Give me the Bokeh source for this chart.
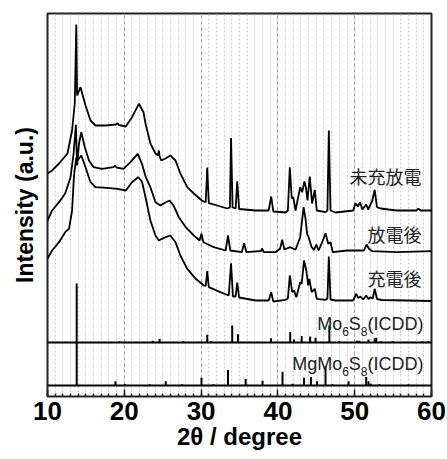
from bokeh.plotting import figure
from bokeh.models import Range1d, SingleIntervalTicker, FixedTicker, Span
from bokeh.embed import file_html
from bokeh.resources import INLINE
from bokeh.core.properties import value

# ---------------- data ----------------
# measured XRD patterns: 2theta and intensity (a.u., above each trace's flat end)
tt_pristine = [10.0, 10.6, 11.5, 12.6, 13.2, 13.55, 13.75, 13.85, 14.3, 14.95, 15.6, 16.25, 17.55, 18.9, 19.1, 19.3,
               20.2, 21.0, 21.9, 22.5, 22.76, 23.4, 24.06, 24.4, 24.5, 24.6, 24.8, 25.36, 26.0, 26.67, 27.3, 28.2,
               29.05, 30.1, 30.6, 30.8, 31.0, 32.1, 33.4, 33.75, 33.9, 34.1, 34.5, 34.7, 34.95, 37.1, 38.8, 39.13,
               39.4, 41.0, 41.3, 41.55, 41.8, 42.0, 42.3, 42.9, 43.16, 43.45, 43.65, 43.85, 44.15, 44.45, 44.8,
               45.06, 46.2, 46.45, 46.63, 46.85, 47.5, 49.8, 50.1, 50.4, 50.7, 51.0, 51.5, 51.75, 52.3, 52.6, 52.9,
               53.4, 54.4, 55.5, 58.0, 58.3, 58.6, 60.0]
int_pristine = [37, 40, 47, 57, 80, 107, 186, 115, 123.3, 105, 90, 85, 85, 86, 87.3, 85.5,
                84, 93.3, 106.7, 98.3, 87, 67, 57, 55, 60, 54, 50, 52, 55, 50, 37, 23.3,
                17, 10, 8.3, 43, 7.3, 5, 2, 3, 72.5, 3, 2, 29.3, 1.5, 0, 0, 14,
                -1, -2, 0, 43.3, 12, 13.3, 0, 23.3, 18.3, 29, 23, 10, 34, 7, 20.7,
                0, -1.7, 0, 80, 0, -2, 0, 7.3, 4, 8.3, 1, 6, 1, 10, 20.7, 3.3,
                2, 1, 0, 0, 1.7, 0, 0]

tt_discharged = [10.0, 10.6, 11.5, 12.3, 13.0, 13.4, 13.7, 13.85, 14.1, 14.4, 14.86, 15.4, 16.0, 17.1, 18.6, 18.8,
                 19.0, 19.9, 20.8, 21.75, 22.3, 22.8, 23.4, 24.06, 24.7, 25.4, 25.9, 26.4, 27.1, 28.0, 29.05,
                 29.8, 30.05, 30.3, 31.65, 33.2, 33.5, 33.8, 35.3, 35.6, 35.9, 37.8, 37.95, 38.15, 39.7, 40.3,
                 40.56, 40.85, 41.6, 42.3, 42.9, 43.1, 43.35, 43.6, 43.8, 44.0, 44.4, 44.7, 45.0, 45.3, 45.85,
                 46.2, 46.55, 46.85, 47.15, 49.0, 51.2, 51.55, 51.85, 52.3, 55.5, 60.0]
int_discharged = [30, 40, 48.3, 57, 73.3, 97, 125.7, 85, 106.7, 118.3, 103.3, 90, 83.3, 81.7, 83.3, 85,
                  83, 81.7, 88.3, 96.7, 86.7, 73.3, 63.3, 48.3, 45, 48.3, 50, 45, 33.3, 23.3, 15,
                  10, 16.7, 8.3, 3.3, 0, 15, 0, -1.7, 7.3, -1.7, -0.5, 2, -1.5, -1.7, 2,
                  10.7, 1, 3.3, 0.7, 13.3, 26.7, 43.3, 31.7, 16.7, 13.3, 3.3, 0.7, 6, 0, 10,
                  17.3, 6.7, 8.3, -1.7, 0, 0, 6, 1.7, -0.7, -1.7, -0.7]

tt_charged = [10.0, 10.6, 11.5, 12.3, 12.8, 13.2, 13.45, 13.75, 13.9, 14.4, 14.95, 15.6, 16.25, 17.8, 19.1, 20.2,
              21.0, 21.8, 22.3, 22.76, 23.4, 24.06, 24.5, 24.9, 25.4, 26.0, 26.67, 27.3, 28.2, 29.3, 30.35,
              30.6, 30.8, 31.0, 32.5, 33.6, 33.9, 34.15, 34.5, 34.7, 34.95, 37.1, 38.8, 39.13, 39.4, 41.0,
              41.3, 41.55, 41.86, 42.1, 42.4, 42.9, 43.1, 43.4, 43.7, 43.95, 44.1, 44.4, 44.8, 45.06, 46.2,
              46.45, 46.63, 46.85, 47.5, 49.8, 50.2, 50.45, 50.75, 51.1, 51.5, 51.8, 52.05, 52.35, 52.6, 52.9,
              53.5, 60.0]
int_charged = [42, 50, 58.3, 68.3, 71.7, 90, 125, 143, 140, 145, 133.3, 118.3, 113.3, 112.7, 111.7, 110,
               118.3, 123.3, 119, 103.3, 80, 65, 60, 61.7, 63.3, 65, 58.3, 45, 31.7, 21.7, 15,
               14.5, 29.3, 13.3, 8.3, 5, 37.3, 4, 4, 18, 3, 0, 0, 8.3, -1, 0.7,
               2, 25, 8.3, 10, 3.3, 18.3, 16.7, 40, 30, 15, 21.7, 8.3, 11.7, 1.7, 0.7,
               2, 44, 1, 0, 0, 6.7, 2.5, 4, 1, 5, 1.5, 3.3, 2, 11.7, 1.5,
               0.5, -0.5]

# reference stick patterns (relative intensity, %)
mo6s8_tt = [13.8, 19.4, 23.7, 24.6, 27.7, 30.8, 31.3, 34.05, 34.8, 39.1, 41.6, 42.1, 43.1, 44.2, 44.9, 46.7,
            48.0, 50.3, 50.6, 51.8, 52.6, 52.8, 53.4, 54.9, 58.8, 59.6]
mo6s8_int = [100, 2, 3, 6, 2, 13, 2, 29, 14, 7, 18, 5, 11, 10, 8, 29,
             2, 3, 3, 5, 7, 8, 2, 2, 2, 2]
mgmo6s8_tt = [13.8, 18.85, 20.1, 23.3, 25.4, 27.5, 30.05, 31.6, 33.5, 35.8, 38.0, 40.6, 41.9, 43.4, 44.3, 45.1,
              46.2, 47.1, 49.2, 51.5, 51.8, 52.1, 53.2, 57.0]
mgmo6s8_int = [100, 7, 2, 2, 7, 2, 13, 2, 26, 11, 8, 23, 3, 13, 14, 7,
               32, 2, 7, 14, 7, 3, 2, 2]

trace_labels = ["未充放電", "放電後", "充電後"]
x_ticks_interval = 10

# ---------------- layout constants ----------------
offsets = [186, 146, 96]          # vertical stacking of the three traces
label_y = [221, 163, 119]
mo_base, mg_base = 54, 11          # baselines of the stick panels
mo_scale, mg_scale = 0.59, 0.60
mg_cap = 43

p = figure(width=447, height=459, output_backend="svg", toolbar_location=None,
           x_range=Range1d(10, 60), y_range=Range1d(0, 383),
           min_border_left=47, min_border_right=16, min_border_top=13, min_border_bottom=63,
           background_fill_color="white", border_fill_color="white")

p.outline_line_color = "#222222"
p.outline_line_width = 2

# grid
p.xgrid.ticker = SingleIntervalTicker(interval=x_ticks_interval, num_minor_ticks=10)
p.xgrid.grid_line_color = "#9a9a9a"
p.xgrid.grid_line_dash = "3 3"
p.xgrid.grid_line_width = 1
p.xgrid.minor_grid_line_color = "#cccccc"
p.xgrid.minor_grid_line_dash = "2 2"
p.xgrid.minor_grid_line_width = 1
p.ygrid.visible = False

# x axis
xa = p.xaxis[0]
xa.ticker = SingleIntervalTicker(interval=x_ticks_interval, num_minor_ticks=10)
xa.axis_line_color = None
xa.major_tick_in = 7
xa.major_tick_out = 0
xa.minor_tick_in = 3
xa.minor_tick_out = 0
xa.major_tick_line_width = 1.5
xa.minor_tick_line_width = 1.5
xa.major_tick_line_color = "#222222"
xa.minor_tick_line_color = "#222222"
xa.major_label_text_font = "Liberation Sans"
xa.major_label_text_font_style = "bold"
xa.major_label_text_font_size = "26px"
xa.major_label_text_color = "black"
xa.major_label_standoff = 5
xa.axis_label = "2θ / degree"
xa.axis_label_text_font = "Liberation Sans"
xa.axis_label_text_font_style = "bold"
xa.axis_label_text_font_size = "24px"
xa.axis_label_text_color = "black"
xa.axis_label_standoff = 0

# y axis
ya = p.yaxis[0]
ya.ticker = FixedTicker(ticks=[])
ya.axis_line_color = None
ya.major_tick_line_color = None
ya.minor_tick_line_color = None
ya.major_label_text_font_size = "0px"
ya.major_label_standoff = 0
ya.axis_label = "Intensity (a.u.)"
ya.axis_label_text_font = "Liberation Sans"
ya.axis_label_text_font_style = "bold"
ya.axis_label_text_font_size = "23px"
ya.axis_label_text_color = "black"
ya.axis_label_standoff = 10

# traces
for tt, it, off in zip([tt_pristine, tt_discharged, tt_charged],
                       [int_pristine, int_discharged, int_charged], offsets):
    p.line(tt, [v + off for v in it], line_color="black", line_width=1.8)

# panel separators
for loc in (mo_base, mg_base):
    p.add_layout(Span(location=loc, dimension="width", line_color="black", line_width=2))

# sticks
p.segment(x0=mo6s8_tt, y0=[mo_base] * len(mo6s8_tt), x1=mo6s8_tt,
          y1=[mo_base + v * mo_scale for v in mo6s8_int], line_color="black", line_width=2)
p.segment(x0=mgmo6s8_tt, y0=[mg_base] * len(mgmo6s8_tt), x1=mgmo6s8_tt,
          y1=[mg_base + min(v * mg_scale, mg_cap) for v in mgmo6s8_int], line_color="black", line_width=2)

# trace labels
p.text(x=[60] * 3, y=label_y, text=trace_labels, text_align="right", text_baseline="middle",
       x_offset=-10, text_font=value("Noto Sans CJK JP"), text_font_size="18px", text_color="#222222")

# formula labels with subscripts
EM = {"M": .833, "o": .556, "g": .556, "S": .667, "(": .333, "I": .278, "C": .722, "D": .722, ")": .333,
      "6": .556, "8": .556}


def formula(pieces, y_base, right=-8, size=18, sub=12, drop=8):
    x = right
    for txt, is_sub in reversed(pieces):
        fs = sub if is_sub else size
        p.text(x=[60], y=[y_base - (drop if is_sub else 0)], text=[txt], text_align="right",
               text_baseline="alphabetic", x_offset=x, text_font=value("Liberation Sans"),
               text_font_size=f"{fs}px", text_color="#222222")
        x -= sum(EM.get(c, .556) for c in txt) * fs


formula([("Mo", False), ("6", True), ("S", False), ("8", True), ("(ICDD)", False)], 73)
formula([("MgMo", False), ("6", True), ("S", False), ("8", True), ("(ICDD)", False)], 33)

open("out.html", "w").write(file_html(p, INLINE))
